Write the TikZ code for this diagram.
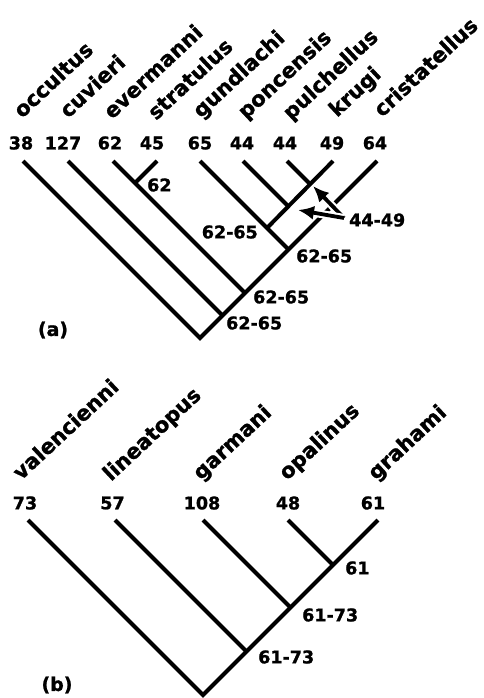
\documentclass[tikz,border=0pt]{standalone}
\usepackage{fontspec}
\setmainfont{DejaVu Sans}[BoldFeatures={FakeBold=1.2}]
\usetikzlibrary{arrows.meta}
\begin{document}
\begin{tikzpicture}[x=1pt,y=-1pt,
  branch/.style={line width=4pt, line join=miter},
  taxon/.style={font=\bfseries\fontsize{21}{21}\selectfont, rotate=43, anchor=base west, inner sep=0pt},
  count/.style={font=\bfseries\fontsize{17.5}{17.5}\selectfont, inner sep=0pt},
  nodelabel/.style={font=\bfseries\fontsize{17.5}{17.5}\selectfont, inner sep=0pt},
  panel/.style={font=\bfseries\fontsize{19}{19}\selectfont, inner sep=0pt},
  shift arrow/.style={line width=3.8pt, -{Latex[length=16pt,width=14pt]},
    preaction={draw=white, line width=8pt, -}}
]
\useasboundingbox (0,0) rectangle (483,698);

% ---------- tree (a) ----------
% leaf tips
\coordinate (occ) at (23,161);
\coordinate (cuv) at (68,161);
\coordinate (eve) at (113,161);
\coordinate (str) at (157,161);
\coordinate (gun) at (200,161);
\coordinate (pon) at (243,161);
\coordinate (pul) at (287,161);
\coordinate (kru) at (333,161);
\coordinate (cri) at (377,161);
% internal nodes
\coordinate (rootA) at (200,338);
\coordinate (a1) at (222.5,315.5);
\coordinate (a2) at (245,293);
\coordinate (a3) at (288.5,249.5);
\coordinate (aES) at (135,183);
\coordinate (aG) at (267,228);
\coordinate (aP) at (288.5,206.5);
\coordinate (aK) at (310,184);

\node[taxon] (t-occ) at (22,119) {occultus};
\node[taxon] (t-cuv) at (68,119) {cuvieri};
\node[taxon] (t-eve) at (112,120) {evermanni};
\node[taxon] (t-str) at (156,121) {stratulus};
\node[taxon] (t-gun) at (201,119) {gundlachi};
\node[taxon] (t-pon) at (246,120) {poncensis};
\node[taxon] (t-pul) at (291,121) {pulchellus};
\node[taxon] (t-kru) at (337,118) {krugi};
\node[taxon] (t-cri) at (382,118) {cristatellus};

\node[count] (c-occ) at (21,143) {38};
\node[count] (c-cuv) at (63,143) {127};
\node[count] (c-eve) at (110,143) {62};
\node[count] (c-str) at (152,143) {45};
\node[count] (c-gun) at (200,143) {65};
\node[count] (c-pon) at (242,143) {44};
\node[count] (c-pul) at (285,143) {44};
\node[count] (c-kru) at (332,143) {49};
\node[count] (c-cri) at (375,143) {64};

\draw[branch] (occ) -- (rootA) -- (cri);
\draw[branch] (cuv) -- (a1);
\draw[branch] (eve) -- (a2);
\draw[branch] (str) -- (aES);
\draw[branch] (gun) -- (a3);
\draw[branch] (aG) -- (kru);
\draw[branch] (pon) -- (aP);
\draw[branch] (pul) -- (aK);

\node[nodelabel, anchor=west] (r-es) at (147,185) {62};
\node[nodelabel, anchor=east] (r-g) at (258,232) {62-65};
\node[nodelabel, anchor=west] (r-3) at (296,256) {62-65};
\node[nodelabel, anchor=west] (r-2) at (253,297) {62-65};
\node[nodelabel, anchor=west] (r-1) at (226,323) {62-65};
\node[nodelabel, anchor=west] (r-sh) at (349,220) {44-49};

% shifts of the range
\coordinate (arTail) at (344,218);
\coordinate (arUp) at (313,186);
\coordinate (arLeft) at (298,210);
\draw[shift arrow] (arTail) -- (arUp);
\draw[shift arrow] (arTail) -- (arLeft);

\node[panel] (lab-a) at (53,330) {(a)};

% ---------- tree (b) ----------
\coordinate (val) at (28,520);
\coordinate (lin) at (115,520);
\coordinate (gar) at (203,520);
\coordinate (opa) at (288,520);
\coordinate (gra) at (378,520);
\coordinate (rootB) at (203,695);
\coordinate (b1) at (246.5,651.5);
\coordinate (b2) at (290.5,607.5);
\coordinate (b3) at (333,565);

\node[taxon] (t-val) at (21,481) {valencienni};
\node[taxon] (t-lin) at (111,482) {lineatopus};
\node[taxon] (t-gar) at (201,481) {garmani};
\node[taxon] (t-opa) at (287,481) {opalinus};
\node[taxon] (t-gra) at (376,481) {grahami};

\node[count] (c-val) at (25,503) {73};
\node[count] (c-lin) at (112.5,503) {57};
\node[count] (c-gar) at (202,503) {108};
\node[count] (c-opa) at (288,503) {48};
\node[count] (c-gra) at (373,503) {61};

\draw[branch] (val) -- (rootB) -- (gra);
\draw[branch] (lin) -- (b1);
\draw[branch] (gar) -- (b2);
\draw[branch] (opa) -- (b3);

\node[nodelabel, anchor=west] (r-b3) at (345,568) {61};
\node[nodelabel, anchor=west] (r-b2) at (302,615) {61-73};
\node[nodelabel, anchor=west] (r-b1) at (258,657) {61-73};

\node[panel] (lab-b) at (57,685) {(b)};
\end{tikzpicture}
\end{document}
